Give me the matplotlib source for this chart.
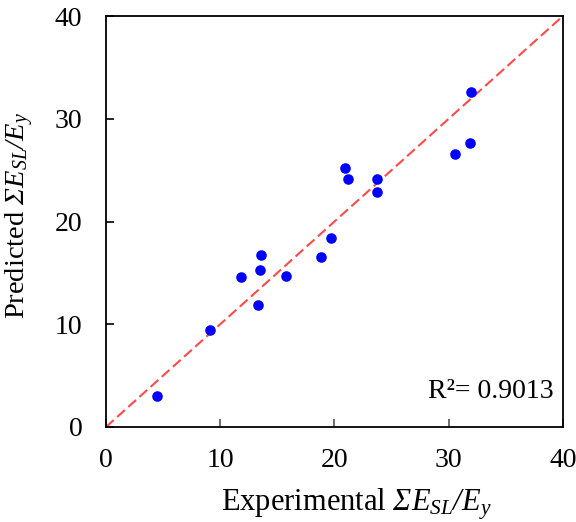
import numpy as np
import matplotlib
matplotlib.use('Agg')
import matplotlib.pyplot as plt

plt.rcParams['font.family'] = 'Liberation Serif'
plt.rcParams['mathtext.fontset'] = 'custom'
# rm set to italic too so the capital sigma comes out slanted
plt.rcParams['mathtext.rm'] = 'Liberation Serif:italic'
plt.rcParams['mathtext.it'] = 'Liberation Serif:italic'

# experimental vs predicted values
experimental = [4.5, 9.1, 11.8, 13.5, 13.6, 13.3, 15.8, 18.8, 19.7,
                20.9, 21.2, 23.7, 23.7, 30.6, 31.9, 32.0]
predicted = [3.0, 9.45, 14.6, 15.3, 16.7, 11.9, 14.7, 16.6, 18.4,
             25.2, 24.1, 24.1, 22.85, 26.6, 27.65, 32.6]
ticks = [0, 10, 20, 30, 40]
r2_text = 'R\u00b2= 0.9013'

fig = plt.figure(figsize=(5.76, 5.22), dpi=100)
ax = fig.add_axes([0.184, 0.182, 0.793, 0.787])

ax.plot([0, 40], [0, 40], color='#ff4a4a', lw=1.5, ls=(0, (5, 2.2)), zorder=1)
ax.scatter(experimental, predicted, s=58, color='#0000ff', zorder=2, linewidths=0)

ax.set_xlim(0, 40)
ax.set_ylim(0, 40)
ax.set_xticks(ticks)
ax.set_yticks(ticks)
ax.tick_params(direction='in', length=6, width=1.2, labelsize=20)
ax.tick_params(axis='x', pad=15, colors='#555555', labelcolor='black')
ax.tick_params(axis='y', pad=17)
for s in ax.spines.values():
    s.set_linewidth(1.3)

ax.set_xlabel(r'Experimental $\Sigma E_{SL}/E_y$', fontsize=22)
ax.set_ylabel(r'Predicted $\Sigma E_{SL}/E_y$', fontsize=20.5)
ax.xaxis.set_label_coords(0.548, -0.144)
ax.yaxis.set_label_coords(-0.153, 0.515)
ax.text(39.2, 2.8, r2_text, fontsize=20, ha='right', va='baseline')

fig.savefig('out.png', dpi=100)
